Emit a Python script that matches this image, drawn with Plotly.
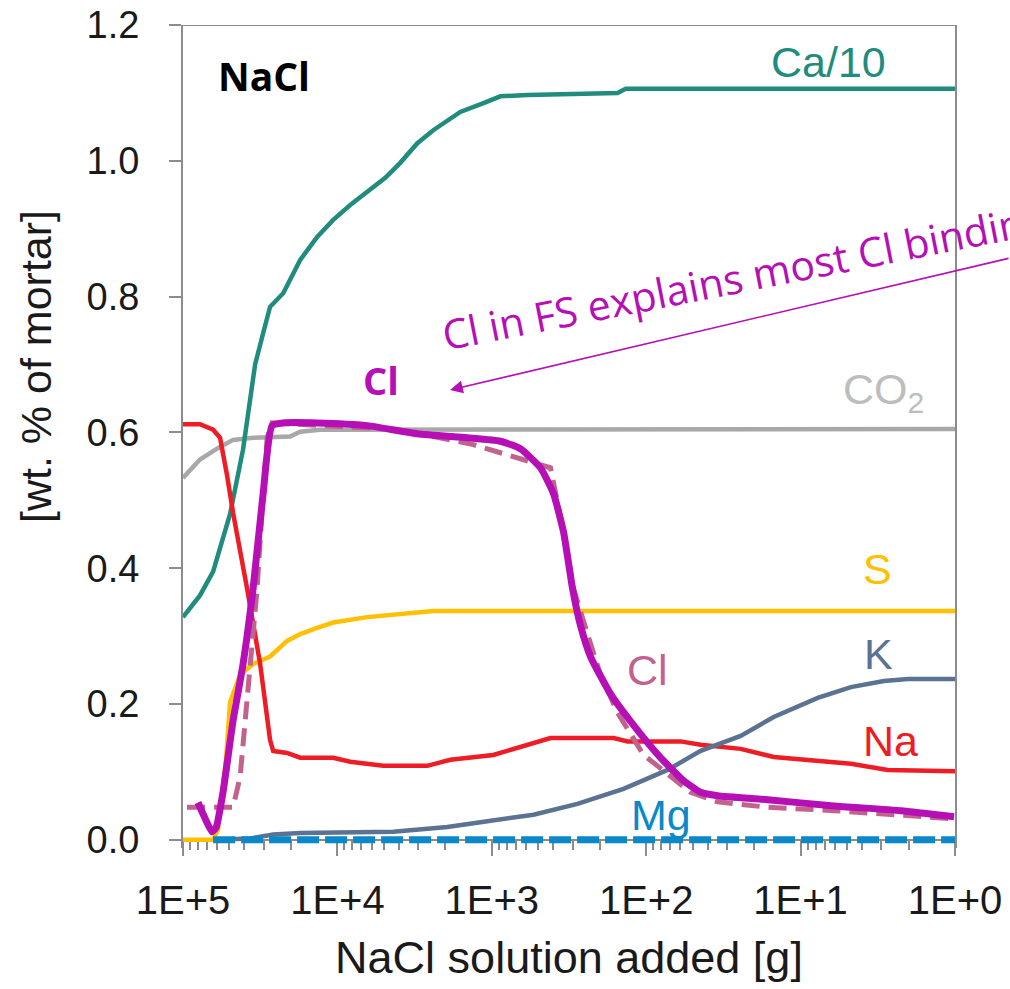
import numpy as np
import plotly.graph_objects as go

# ---------------- data (x as log10 of grams of NaCl solution added) ----------------
ca_logg = [5.000, 4.890, 4.805, 4.695, 4.611, 4.533, 4.481, 4.436, 4.351, 4.241, 4.131, 4.027,
           3.917, 3.807, 3.690, 3.593, 3.482, 3.379, 3.204, 3.054, 2.944, 2.769, 2.185, 2.133, 0.000]
ca_val = [0.328, 0.360, 0.395, 0.480, 0.575, 0.700, 0.746, 0.785, 0.805, 0.854, 0.888, 0.913,
          0.935, 0.954, 0.975, 0.997, 1.026, 1.045, 1.072, 1.085, 1.095, 1.097, 1.100, 1.106, 1.106]

co2_logg = [5.000, 4.890, 4.780, 4.676, 4.546, 4.306, 4.241, 4.112, 0.000]
co2_val = [0.533, 0.560, 0.576, 0.589, 0.592, 0.594, 0.601, 0.604, 0.605]

na_logg = [5.000, 4.890, 4.805, 4.760, 4.715, 4.676, 4.585, 4.501, 4.436, 4.416, 4.326, 4.241,
           4.027, 3.917, 3.703, 3.418, 3.268, 2.990, 2.620, 2.211, 2.121, 1.777, 1.647, 1.388,
           1.174, 0.999, 0.674, 0.435, 0.000]
na_val = [0.612, 0.612, 0.604, 0.592, 0.537, 0.482, 0.370, 0.260, 0.147, 0.131, 0.128, 0.121,
          0.121, 0.115, 0.109, 0.109, 0.118, 0.125, 0.150, 0.150, 0.145, 0.145, 0.140, 0.134,
          0.122, 0.118, 0.112, 0.103, 0.101]

s_logg = [5.000, 4.805, 4.773, 4.721, 4.695, 4.630, 4.546, 4.436, 4.326, 4.241, 4.131, 4.027,
          3.807, 3.593, 3.379, 0.000]
s_val = [0.000, 0.000, 0.015, 0.120, 0.203, 0.243, 0.259, 0.270, 0.293, 0.303, 0.312, 0.320,
         0.328, 0.333, 0.337, 0.337]

k_logg = [4.805, 4.565, 4.416, 4.241, 3.638, 3.508, 3.288, 3.074, 2.879, 2.730, 2.445, 2.147,
          1.861, 1.647, 1.388, 1.174, 0.889, 0.674, 0.460, 0.305, 0.000]
k_val = [0.000, 0.002, 0.008, 0.010, 0.012, 0.014, 0.019, 0.026, 0.032, 0.037, 0.053, 0.075,
         0.103, 0.131, 0.153, 0.181, 0.209, 0.225, 0.234, 0.237, 0.237]

mg_logg = [4.805, 4.000, 3.000, 2.000, 1.000, 0.000]
mg_val = [0.000, 0.000, 0.000, 0.000, 0.000, 0.000]

cl_logg = [4.974, 4.676, 4.630, 4.585, 4.520, 4.481, 4.455, 4.423, 4.241, 3.917, 3.593, 3.119,
           2.944, 2.620, 2.536, 2.471, 2.380, 2.296, 2.185, 2.017, 1.861, 1.712, 1.537, 1.213,
           0.785, 0.350, 0.006]
cl_val = [0.048, 0.048, 0.093, 0.203, 0.370, 0.510, 0.592, 0.614, 0.612, 0.607, 0.604, 0.582,
          0.570, 0.548, 0.454, 0.370, 0.303, 0.243, 0.187, 0.125, 0.097, 0.070, 0.056, 0.048,
          0.043, 0.037, 0.031]

clfs_logg = [4.903, 4.864, 4.812, 4.786, 4.741, 4.676, 4.611, 4.546, 4.481, 4.423, 4.351, 4.131,
             3.807, 3.482, 3.158, 2.944, 2.815, 2.685, 2.601, 2.536, 2.477, 2.425, 2.361, 2.231,
             2.082, 1.907, 1.757, 1.647, 1.537, 1.213, 0.785, 0.350, 0.006]
clfs_val = [0.055, 0.035, 0.012, 0.018, 0.070, 0.175, 0.259, 0.370, 0.510, 0.610, 0.614, 0.614,
            0.610, 0.598, 0.592, 0.587, 0.576, 0.548, 0.510, 0.454, 0.370, 0.315, 0.270, 0.215,
            0.169, 0.121, 0.087, 0.070, 0.065, 0.059, 0.050, 0.043, 0.034]

x_tick_vals = [1e5, 1e4, 1e3, 1e2, 1e1, 1e0]
x_tick_text = ["1E+5", "1E+4", "1E+3", "1E+2", "1E+1", "1E+0"]

# ---------------- styling ----------------
AX = "#8c8c8c"
FONT = "Liberation Sans, Arial, sans-serif"
CAL = "Open Sans, Noto Sans, sans-serif"
C_CA, C_CO2, C_NA, C_S, C_K, C_MG, C_CL, C_P = (
    "#1f8c7d", "#a8a8a8", "#ee1c25", "#ffc000", "#5b7293", "#0a88c8", "#c2628e", "#b50fb5")

W, H = 1010, 989
L_M, R_M, T_M, B_M = 183, 55, 25, 141
PW, PH = W - L_M - R_M, H - T_M - B_M


def px(x):
    return (x - L_M) / PW


def py(y):
    return (H - B_M - y) / PH


def g(arr):
    return 10 ** np.array(arr)


fig = go.Figure()
common = dict(mode="lines", hoverinfo="skip", showlegend=False)
fig.add_trace(go.Scatter(x=g(co2_logg), y=co2_val, line=dict(color=C_CO2, width=4.5), **common))
fig.add_trace(go.Scatter(x=g(ca_logg), y=ca_val, line=dict(color=C_CA, width=4.5), **common))
fig.add_trace(go.Scatter(x=g(s_logg), y=s_val, line=dict(color=C_S, width=4.5), **common))
fig.add_trace(go.Scatter(x=g(na_logg), y=na_val, line=dict(color=C_NA, width=4.5), **common))
fig.add_trace(go.Scatter(x=g(k_logg), y=k_val, line=dict(color=C_K, width=4.5), **common))
fig.add_trace(go.Scatter(x=g(mg_logg), y=mg_val, line=dict(color=C_MG, width=7, dash="22px,6px"), **common))
fig.add_trace(go.Scatter(x=g(cl_logg), y=cl_val, line=dict(color=C_CL, width=5, dash="18px,9px"), **common))
fig.add_trace(go.Scatter(x=g(clfs_logg), y=clfs_val,
                         line=dict(color=C_P, width=7, shape="spline", smoothing=0.5), **common))

minor_vals = [m * 10 ** d for d in range(0, 5) for m in range(2, 10)]
y_lo = -0.012

fig.update_layout(
    width=W, height=H,
    margin=dict(l=L_M, r=R_M, t=T_M, b=B_M, pad=0, autoexpand=False),
    paper_bgcolor="white", plot_bgcolor="white",
    font=dict(family=FONT, color="#1a1a1a"),
    xaxis=dict(
        type="log", range=[5, 0], anchor="free", position=(0 - y_lo) / (1.2 - y_lo),
        automargin=False, layer="below traces",
        tickmode="array", tickvals=x_tick_vals, ticktext=x_tick_text,
        ticks="outside", ticklen=15, tickwidth=2, tickcolor=AX,
        minor=dict(tickmode="array", tickvals=minor_vals, ticks="outside", ticklen=9,
                   tickwidth=2, tickcolor=AX, showgrid=False),
        showline=True, linecolor=AX, linewidth=2, mirror=False,
        showgrid=False, zeroline=False,
        tickfont=dict(size=40, family=FONT, color="#1a1a1a"),
        ticklabelstandoff=10,
        title=dict(text="NaCl solution added [g]", font=dict(size=45, family=FONT, color="#1a1a1a"),
                   standoff=20),
    ),
    yaxis=dict(
        range=[y_lo, 1.2], tickmode="array", tickvals=[0, 0.2, 0.4, 0.6, 0.8, 1.0, 1.2],
        tickformat=".1f", automargin=False, layer="below traces",
        ticks="outside", ticklen=12, tickwidth=2, tickcolor=AX,
        showline=True, linecolor=AX, linewidth=2, mirror=True,
        showgrid=False, zeroline=False,
        tickfont=dict(size=38, family=FONT, color="#1a1a1a"),
        ticklabelstandoff=22,
    ),
    shapes=[dict(type="line", xref="paper", yref="y", x0=0, x1=1, y0=1.2, y1=1.2,
                 layer="below", line=dict(color=AX, width=2))],
)

ann = []


def label(text, x, y, color, size=43, family=FONT, bold=False, angle=0):
    t = f"<b>{text}</b>" if bold else text
    ann.append(dict(text=t, x=px(x), y=py(y), xref="paper", yref="paper", showarrow=False,
                    xanchor="center", yanchor="middle", textangle=angle,
                    font=dict(size=size, family=family, color=color)))


label("[wt. % of mortar]", 36, 367, "#1a1a1a", size=43, angle=-90)
label("Ca/10", 828, 62, C_CA)
label("CO<sub>2</sub>", 883, 392, "#bdbdbd")
label("S", 877, 569, C_S)
label("K", 878, 654, C_K)
label("Na", 890, 741, C_NA)
label("Cl", 647, 670, C_CL)
label("Mg", 661, 815, C_MG)
label("NaCl", 264, 76, "#000000", size=39, family=CAL, bold=True)
label("Cl", 381, 380, C_P, size=38, family=CAL, bold=True)
label("Cl in FS explains most Cl binding", 743, 276, C_P, size=41, family=CAL, angle=-11.1)

ann.append(dict(text="", x=px(450), y=py(390), xref="paper", yref="paper", showarrow=True,
                ax=580, ay=-132, axref="pixel", ayref="pixel", arrowhead=2, arrowsize=1.6,
                arrowwidth=1.6, arrowcolor=C_P, standoff=0, startstandoff=0))

fig.update_layout(annotations=ann)
fig.write_html("out.html", config={"displayModeBar": False},
               post_script="document.body.style.margin='0';document.body.style.overflow='hidden';")
